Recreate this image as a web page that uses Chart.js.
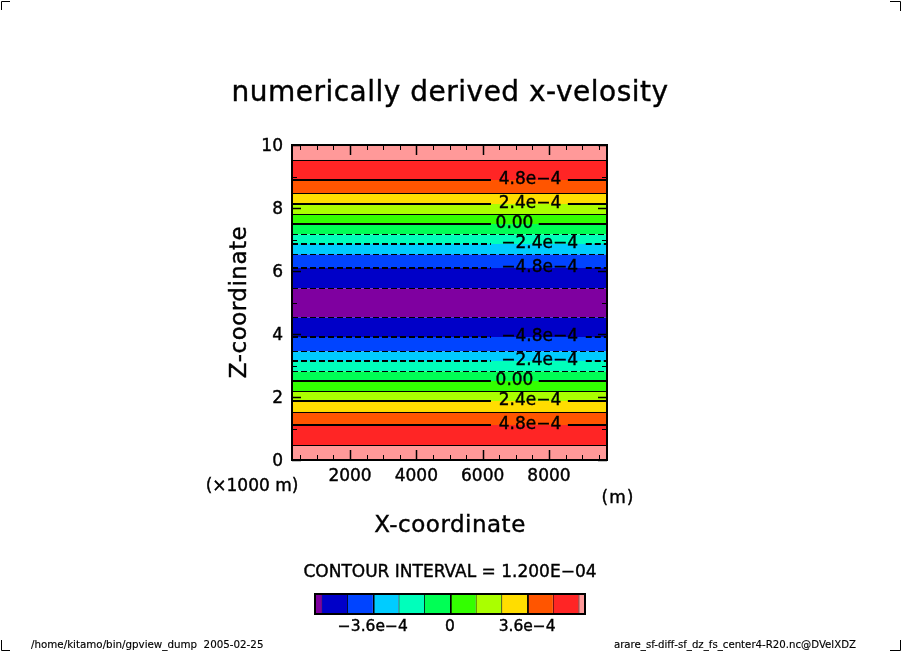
<!DOCTYPE html>
<html>
<head>
<meta charset="utf-8">
<style>
html, body { margin: 0; padding: 0; background: #fff; }
#wrap { position: relative; width: 902px; height: 652px; overflow: hidden; }
#main { position: absolute; left: 0; top: 0; }
#bar { position: absolute; left: 300px; top: 590px; }
</style>
<script src="https://cdn.jsdelivr.net/npm/chart.js@4"></script>
</head>
<body>
<div id="wrap">
<canvas id="main" width="902" height="652"></canvas>
<canvas id="bar" width="300" height="50"></canvas>
</div>
<script>
// band edges in z (x1000 m), bottom to top
const zEdges = [0, 0.46, 1.111, 1.508, 1.873, 2.175, 2.508, 2.81, 3.143, 3.444, 3.905, 4.524,
                5.444, 6.095, 6.524, 6.857, 7.159, 7.492, 7.794, 8.127, 8.46, 8.889, 9.508, 10];
const bandColors = ['#ff9999', '#ff2525', '#ff5500', '#ffdd00', '#aaff00', '#33ff00', '#00ff55',
                    '#00ffbb', '#00ccff', '#0044ff', '#0000c8', '#7f00a0', '#0000c8', '#0044ff',
                    '#00ccff', '#00ffbb', '#00ff55', '#33ff00', '#aaff00', '#ffdd00', '#ff5500',
                    '#ff2525', '#ff9999'];

// contours: dashed below zero
const thinSolidZ = [0.46, 1.508, 2.175, 7.794, 8.46, 9.508];
const thinDashedZ = [2.81, 3.444, 4.524, 5.444, 6.524, 7.159];

// labelled contours
const labelZ = [1.111, 1.873, 2.508, 3.143, 3.905, 6.095, 6.857, 7.492, 8.127, 8.889];
const labelText = ['4.8e\u22124', '2.4e\u22124', '0.00', '\u22122.4e\u22124', '\u22124.8e\u22124',
                   '\u22124.8e\u22124', '\u22122.4e\u22124', '0.00', '2.4e\u22124', '4.8e\u22124'];
const labelX = [7430, 7430, 6960, 7720, 7720, 7720, 7720, 6960, 7430, 7430];
const gapStart = [6250, 6250, 6250, 6250, 6250, 6250, 6250, 6250, 6250, 6250];
const gapEnd = [8570, 8570, 7690, 9110, 9110, 9110, 9110, 7690, 8570, 8570];

const xMin = 250, xMax = 9750;
const xTickLabels = [2000, 4000, 6000, 8000];
const xMinorTicks = [500, 1000, 1500, 2500, 3000, 3500, 4500, 5000, 5500, 6500, 7000, 7500, 8500, 9000, 9500];
const zTickLabels = [0, 2, 4, 6, 8, 10];
const zMinorTicks = [1, 3, 5, 7, 9];

// colour bar
const barEdges = [-6.3e-4, -6e-4, -4.8e-4, -3.6e-4, -2.4e-4, -1.2e-4, 0, 1.2e-4, 2.4e-4, 3.6e-4, 4.8e-4, 6e-4, 6.3e-4];
const barColors = ['#7f00a0', '#0000c8', '#0044ff', '#00ccff', '#00ffbb', '#00ff55',
                   '#33ff00', '#aaff00', '#ffdd00', '#ff5500', '#ff2525', '#ff9999'];
const barTicks = [-3.6e-4, 0, 3.6e-4];
const barTickLabels = ['\u22123.6e\u22124', '0', '3.6e\u22124'];

const FONT = "'DejaVu Sans', sans-serif";
const THICK = 2, THIN = 1;

function line(z, width, dashed) {
    return {
        data: [{ x: xMin, y: z }, { x: xMax, y: z }],
        showLine: true, pointRadius: 0, borderColor: '#000',
        borderWidth: width, borderDash: dashed ? [6, 3] : [], fill: false, order: 1
    };
}

// bands first so that fill '+1' finds the next edge
const datasets = zEdges.map((z, i) => ({
    data: [{ x: xMin, y: z }, { x: xMax, y: z }],
    showLine: true, pointRadius: 0, borderWidth: 0,
    backgroundColor: bandColors[i],
    fill: i < bandColors.length ? '+1' : false,
    order: 2
}));
thinSolidZ.forEach(z => datasets.push(line(z, THIN, false)));
thinDashedZ.forEach(z => datasets.push(line(z, THIN, true)));
labelZ.forEach((z, i) => {
    const d = line(z, THICK, z > 2.6 && z < 7.4);
    d.data = [{ x: xMin, y: z }, { x: gapStart[i], y: z }, { x: gapStart[i], y: null },
              { x: gapEnd[i], y: z }, { x: xMax, y: z }];
    datasets.push(d);
});

function text(ctx, str, x, y, size, opts) {
    opts = opts || {};
    ctx.save();
    ctx.font = size + 'px ' + FONT;
    ctx.fillStyle = '#000';
    ctx.strokeStyle = '#000';
    ctx.lineWidth = size > 12 ? 0.4 : 0.15;
    ctx.textAlign = opts.align || 'center';
    ctx.textBaseline = 'middle';
    if (opts.spacing) ctx.letterSpacing = opts.spacing + 'px';
    ctx.translate(x, y);
    if (opts.rotate) ctx.rotate(opts.rotate);
    ctx.fillText(str, 0, 1.5);
    ctx.strokeText(str, 0, 1.5);
    ctx.restore();
}

const framePlugin = {
    id: 'frame',
    beforeDraw(chart) {
        // canvas 'middle' sits a bit high for digits
        chart.scales.y.getLabelItems().forEach(it => { it.options.translation[1] += 1.5; });
    },
    afterDatasetsDraw(chart) {
        const { ctx, chartArea: a, scales } = chart;
        ctx.save();
        ctx.strokeStyle = '#000';
        // inward ticks on all four sides, snapped so they stay crisp
        const xTick = (v, len, w) => {
            const p = Math.round(scales.x.getPixelForValue(v)) + 0.5;
            ctx.lineWidth = w;
            ctx.beginPath();
            ctx.moveTo(p, a.top); ctx.lineTo(p, a.top + len);
            ctx.moveTo(p, a.bottom); ctx.lineTo(p, a.bottom - len);
            ctx.stroke();
        };
        const zTick = (v, len, w) => {
            const p = Math.round(scales.y.getPixelForValue(v)) + 0.5;
            ctx.lineWidth = w;
            ctx.beginPath();
            ctx.moveTo(a.left, p); ctx.lineTo(a.left + len, p);
            ctx.moveTo(a.right, p); ctx.lineTo(a.right - len, p);
            ctx.stroke();
        };
        xMinorTicks.forEach(v => xTick(v, 5, 1));
        xTickLabels.forEach(v => xTick(v, 10, 1.5));
        zMinorTicks.forEach(v => zTick(v, 5, 1));
        zTickLabels.forEach(v => zTick(v, 9, 1.5));
        ctx.lineWidth = 2;
        ctx.strokeRect(a.left, a.top, a.right - a.left, a.bottom - a.top);

        // corner marks
        ctx.lineWidth = 1;
        ctx.beginPath();
        ctx.moveTo(1.5, 10); ctx.lineTo(1.5, 1.5); ctx.lineTo(10, 1.5);
        ctx.moveTo(890, 1.5); ctx.lineTo(900.5, 1.5); ctx.lineTo(900.5, 11);
        ctx.moveTo(1.5, 640); ctx.lineTo(1.5, 650.5); ctx.lineTo(10, 650.5);
        ctx.moveTo(890, 650.5); ctx.lineTo(900.5, 650.5); ctx.lineTo(900.5, 640);
        ctx.stroke();
        ctx.restore();

        labelZ.forEach((z, i) => {
            text(ctx, labelText[i], scales.x.getPixelForValue(labelX[i]), scales.y.getPixelForValue(z) - 1.5, 17);
        });
        text(ctx, 'numerically derived x-velosity', 450, 92, 28, { spacing: 0.5 });
        text(ctx, 'Z-coordinate', 239, 302, 23, { rotate: -Math.PI / 2, spacing: 0.5 });
        text(ctx, 'X-coordinate', 450, 525, 23, { spacing: 0.5 });
        text(ctx, '(\u00d71000 m)', 252, 485, 17);
        text(ctx, '(m)', 618, 497, 17, { spacing: 1 });
        text(ctx, 'CONTOUR INTERVAL = 1.200E\u221204', 450, 571, 17);
        text(ctx, '/home/kitamo/bin/gpview_dump  2005-02-25', 31, 644, 10.3, { align: 'left' });
        text(ctx, 'arare_sf-diff-sf_dz_fs_center4-R20.nc@DVelXDZ', 856, 644, 10.2, { align: 'right' });
    }
};

const tickFont = { family: FONT, size: 17 };

new Chart(document.getElementById('main'), {
    type: 'scatter',
    data: { datasets },
    plugins: [framePlugin],
    options: {
        responsive: false,
        animation: false,
        layout: { padding: { left: 252, right: 295, top: 145, bottom: 162 } },
        plugins: { legend: { display: false }, tooltip: { enabled: false } },
        scales: {
            x: {
                type: 'linear', min: xMin, max: xMax,
                afterBuildTicks: s => { s.ticks = xTickLabels.map(v => ({ value: v })); },
                afterFit: s => { s.height = 30; },
                grid: { display: false, drawTicks: false }, border: { display: false },
                ticks: { color: '#000', font: tickFont, padding: 6, maxRotation: 0, autoSkip: false,
                         textStrokeColor: '#000', textStrokeWidth: 0.4, callback: v => String(v) }
            },
            y: {
                type: 'linear', min: 0, max: 10,
                afterBuildTicks: s => { s.ticks = zTickLabels.map(v => ({ value: v })); },
                afterFit: s => { s.width = 40; },
                grid: { display: false, drawTicks: false }, border: { display: false },
                ticks: { color: '#000', font: tickFont, padding: 9, autoSkip: false,
                         textStrokeColor: '#000', textStrokeWidth: 0.4, callback: v => String(v) }
            }
        }
    }
});

const barFrame = {
    id: 'barFrame',
    afterDatasetsDraw(chart) {
        const { ctx, chartArea: a } = chart;
        ctx.save();
        ctx.strokeStyle = '#000';
        ctx.lineWidth = 2;
        ctx.strokeRect(a.left, a.top, a.right - a.left, a.bottom - a.top);
        ctx.restore();
    }
};

new Chart(document.getElementById('bar'), {
    type: 'bar',
    data: {
        labels: [''],
        datasets: barColors.map((c, i) => ({
            data: [[barEdges[i], barEdges[i + 1]]],
            backgroundColor: c,
            borderColor: '#000',
            borderSkipped: false,
            borderWidth: { left: i > 0 ? (barTicks.some(t => Math.abs(t - barEdges[i]) < 1e-9) ? 2 : 1) : 0, right: 0, top: 0, bottom: 0 },
            barPercentage: 1, categoryPercentage: 1
        }))
    },
    plugins: [barFrame],
    options: {
        responsive: false,
        animation: false,
        indexAxis: 'y',
        layout: { padding: { left: 15, right: 15, top: 4, bottom: 0 } },
        plugins: { legend: { display: false }, tooltip: { enabled: false } },
        scales: {
            y: { stacked: true, display: false },
            x: {
                type: 'linear', min: barEdges[0], max: barEdges[barEdges.length - 1],
                afterBuildTicks: s => { s.ticks = barTicks.map(v => ({ value: v })); },
                afterFit: s => { s.height = 26; },
                grid: { display: false, drawTicks: false }, border: { display: false },
                ticks: { color: '#000', font: { family: FONT, size: 15.5 }, padding: 4, maxRotation: 0, autoSkip: false,
                         textStrokeColor: '#000', textStrokeWidth: 0.4,
                         callback: (v, i) => barTickLabels[i] }
            }
        }
    }
});
</script>
</body>
</html>
